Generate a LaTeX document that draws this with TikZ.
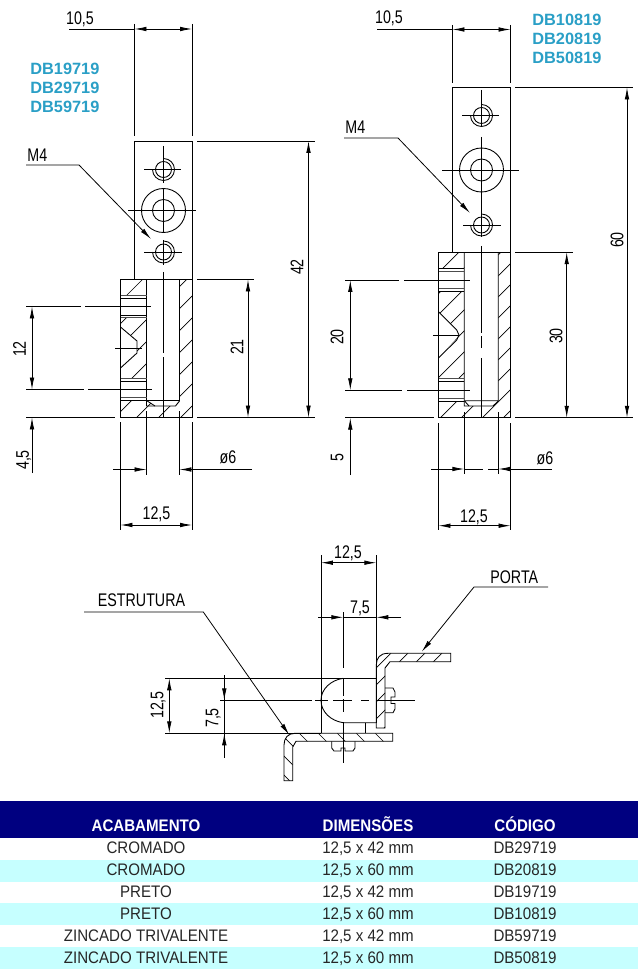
\documentclass[tikz,border=0pt]{standalone}
\usepackage{fontspec}
\usepackage{xcolor}
\usetikzlibrary{arrows.meta}
\setmainfont{Liberation Sans}
\newfontfamily\dimfont[FakeStretch=0.78]{Liberation Sans}
\newfontfamily\rowfont[FakeStretch=0.905]{Liberation Sans}
\definecolor{codeblue}{HTML}{2A9FC6}
\definecolor{headblue}{HTML}{000080}
\definecolor{rowcyan}{HTML}{C6FFFF}
\begin{document}
\begin{tikzpicture}[x=0.02cm,y=-0.02cm,line width=0.45pt,
  part/.style={line width=0.5pt},
  thin part/.style={line width=0.4pt,black!70},
  hatch/.style={line width=0.4pt},
  dim/.style={{Latex[length=6.8pt,width=2.6pt]}-{Latex[length=6.8pt,width=2.6pt]}},
  dim end/.style={-{Latex[length=6.8pt,width=2.6pt]}},
  dim text/.style={font=\dimfont\fontsize{10.4}{11}\selectfont,inner sep=0pt,text depth=0pt},
  code text/.style={font=\bfseries\fontsize{9.3}{11}\selectfont,text=codeblue,inner sep=0pt,anchor=west},
  head text/.style={font=\rowfont\bfseries\fontsize{9.5}{10}\selectfont,text=white,inner sep=0pt,anchor=base},
  row text/.style={font=\rowfont\fontsize{9.5}{10}\selectfont,text=black!85,inner sep=0pt,text depth=0pt}]
\useasboundingbox (0,0) rectangle (638,969);

% left view, plate
\draw[part] (134.5,279.5) -- (134.5,141) -- (192,141) -- (192,279.5);
\foreach \cy in {169.5,252} {
  \draw[part] (163.5,\cy) circle[radius=8];
  \draw[part] (163.5,\cy-11) arc[start angle=-90,end angle=180,radius=11];
}
\draw[part] (163.5,210.5) circle[radius=11] (163.5,210.5) circle[radius=22];
\draw (144,169.5) -- (181,169.5) (163.5,146) -- (163.5,183);
\draw (128,210.5) -- (196,210.5) (163.5,188) -- (163.5,232);
\draw (144,252) -- (182,252) (163.5,240) -- (163.5,265);
\draw (163.5,272) -- (163.5,353) (163.5,357) -- (163.5,417.5);

% left view, section
\begin{scope}
\clip (120.5,279.5) rectangle (146.5,295)
  (120.5,317.5) -- (146.5,317.5) -- (146.5,378) -- (120.5,378) -- (120.5,368) -- (137,353) -- (137,341) -- (120.5,327) -- cycle
  (120.5,400) -- (146.5,400) -- (155,406) -- (175.5,406) -- (179.5,401) -- (179.5,279.5) -- (192,279.5) -- (192,417.5) -- (120.5,417.5) -- cycle;
\foreach \k in {400,422,...,610} \draw[hatch] (\k-450,450) -- (\k-250,250);
\end{scope}
\draw[part] (120.5,279.5) rectangle (192,417.5);
\draw[part] (146.5,279.5) -- (146.5,406) -- (175.5,406) -- (179.5,401) -- (179.5,279.5);
\draw[part] (146.5,400.5) -- (179.5,400.5) (146.5,400.5) -- (155,406);
\draw[thin part] (120.5,295) -- (146.5,295) (120.5,378) -- (146.5,378) (120.5,397) -- (146.5,397) (120.5,317.5) -- (146.5,317.5);
\draw[part] (120.5,298) -- (146.5,298) (120.5,315) -- (146.5,315) (120.5,381) -- (146.5,381) (120.5,400) -- (146.5,400);
\draw[part] (120.5,327) -- (137,341) -- (137,353) -- (120.5,368);
\draw (115,348) -- (142,348);

% left view, dimensions
\draw (134.5,24) -- (134.5,136) (192,24) -- (192,136);
\draw[dim] (134.5,29) -- (192,29);
\draw (69,29) -- (134.5,29);
\node[dim text] (widthA) at (80,18.5) {10,5};
\draw (197,141) -- (315,141) (197,279.5) -- (254,279.5) (197,417.5) -- (315,417.5);
\draw[dim] (308.5,141) -- (308.5,417.5);
\draw[dim] (248,279.5) -- (248,417.5);
\node[dim text,rotate=90] (heightA) at (297,267) {42};
\node[dim text,rotate=90] (wallA) at (237,347) {21};
\draw (26,306.5) -- (81,306.5) (85,306.5) -- (151,306.5);
\draw (26,389.5) -- (84,389.5) (88,389.5) -- (152,389.5);
\draw (26,417.5) -- (115,417.5);
\draw[dim] (32,306.5) -- (32,389.5);
\draw[dim end] (32,473) -- (32,417.5);
\node[dim text,rotate=90] (holesA) at (19.5,349) {12};
\node[dim text,rotate=90] (offsetA) at (22.5,460) {4,5};
\draw (120.5,422) -- (120.5,530) (192,422) -- (192,530);
\draw (146.5,411) -- (146.5,475) (179.5,411) -- (179.5,475);
\draw[dim end] (113,469.5) -- (146.5,469.5);
\draw[dim end] (252,469.5) -- (179.5,469.5);
\node[dim text] (boreA) at (228,457.5) {ø6};
\draw[dim] (120.5,525) -- (192,525);
\node[dim text] (depthA) at (156.5,513) {12,5};
\node[code text] (codeA) at (30,69) {DB19719};
\node[code text] (codeB) at (30,88) {DB29719};
\node[code text] (codeC) at (30,107) {DB59719};
\node[dim text,anchor=west] (threadA) at (27,155) {M4};
\coordinate (threadAtip) at (151,239);
\draw[dim end] (26,165) -- (79,165) -- (threadAtip);

% right view, plate
\draw[part] (452.5,252.3) -- (452.5,87.5) -- (510.5,87.5) -- (510.5,252.3);
\foreach \cy in {115.5,225} {
  \draw[part] (481.5,\cy) circle[radius=8];
  \draw[part] (481.5,\cy-11) arc[start angle=-90,end angle=180,radius=11];
}
\draw[part] (481.5,170) circle[radius=11] (481.5,170) circle[radius=22];
\draw (462,115.5) -- (499,115.5) (481.5,90) -- (481.5,127);
\draw (442,170) -- (519,170) (481.5,137) -- (481.5,237);
\draw (463,225) -- (501,225);
\draw (481.5,246) -- (481.5,333) (481.5,336) -- (481.5,348) (481.5,358) -- (481.5,417.7);

% right view, section
\begin{scope}
\clip (438.5,252.3) rectangle (464.3,268)
  (438.5,291.7) -- (464.3,291.7) -- (464.3,378) -- (438.5,378) -- (438.5,358) -- (458,337) -- (459,335) -- (456.7,330) -- (438.5,311.7) -- cycle
  (438.5,401) -- (464.3,401) -- (469,406) -- (493,406) -- (498.3,401) -- (498.3,252.3) -- (510.5,252.3) -- (510.5,417.7) -- (438.5,417.7) -- cycle;
\foreach \k in {690,711,...,928} \draw[hatch] (\k-450,450) -- (\k-250,250);
\end{scope}
\draw[part] (438.5,252.3) rectangle (510.5,417.7);
\draw[part] (464.3,252.3) -- (464.3,406) -- (493,406) -- (498.3,401) -- (498.3,252.3);
\draw[part] (464.3,400.7) -- (498.3,400.7) (464.3,400.7) -- (469,406);
\draw[thin part] (438.5,271) -- (464.3,271) (438.5,288) -- (464.3,288) (438.5,378) -- (464.3,378) (438.5,398.3) -- (464.3,398.3);
\draw[part] (438.5,268) -- (464.3,268) (438.5,291.7) -- (464.3,291.7) (438.5,381) -- (464.3,381) (438.5,401) -- (464.3,401);
\draw[part] (438.5,311.7) -- (456.7,330) -- (459,335) -- (456.7,340) -- (438.5,358);
\draw (433,335) -- (459,335);

% right view, dimensions
\draw (452.5,25) -- (452.5,83) (510.5,25) -- (510.5,83);
\draw[dim] (452.5,29.5) -- (510.5,29.5);
\draw (377,29.5) -- (452.5,29.5);
\node[dim text] (widthB) at (389,17.5) {10,5};
\draw (515,87.5) -- (633,87.5) (515,252.3) -- (573,252.3) (515,417.7) -- (633,417.7);
\draw[dim] (627,87.5) -- (627,417.7);
\draw[dim] (566.7,252.3) -- (566.7,417.7);
\node[dim text,rotate=90] (heightB) at (617,240) {60};
\node[dim text,rotate=90] (wallB) at (556,336) {30};
\draw (345,280) -- (399,280) (404,280) -- (470,280);
\draw (345,390.3) -- (402,390.3) (407,390.3) -- (470,390.3);
\draw (345,417.7) -- (434,417.7);
\draw[dim] (350.3,280) -- (350.3,390.3);
\draw[dim end] (350.3,475) -- (350.3,417.7);
\node[dim text,rotate=90] (holesB) at (337,337) {20};
\node[dim text,rotate=90] (offsetB) at (337,458) {5};
\draw (438.5,423) -- (438.5,530) (510.5,423) -- (510.5,530);
\draw (464.3,412) -- (464.3,474) (498.3,412) -- (498.3,474);
\draw[dim end] (431,469) -- (464.3,469);
\draw (464.3,469) -- (483,469);
\draw[dim end] (552,469) -- (498.3,469);
\draw (488,469) -- (498.3,469);
\node[dim text] (boreB) at (545,458) {ø6};
\draw[dim] (438.5,525.7) -- (510.5,525.7);
\node[dim text] (depthB) at (474,516) {12,5};
\node[code text] (codeD) at (532,20) {DB10819};
\node[code text] (codeE) at (532,39) {DB20819};
\node[code text] (codeF) at (532,58) {DB50819};
\node[dim text,anchor=west] (threadB) at (345,127) {M4};
\coordinate (threadBtip) at (470,213);
\draw[dim end] (344,138) -- (398,138) -- (threadBtip);

% mounting view
\begin{scope}
\clip (376.3,728) -- (385,728) -- (385,668) -- (390,661.7) -- (450.7,661.7) -- (450.7,653.3) -- (388,653.3) .. controls (380,653.3) and (376.3,658) .. (376.3,665) -- cycle;
\foreach \k in {1027,1044,...,1120} \draw[hatch] (\k-750,750) -- (\k-640,640);
\end{scope}
\draw[part] (376.3,728) -- (385,728) -- (385,668) -- (390,661.7) -- (450.7,661.7) -- (450.7,653.3) -- (388,653.3) .. controls (380,653.3) and (376.3,658) .. (376.3,665) -- cycle;
\begin{scope}
\clip (284,780.7) -- (292.7,780.7) -- (292.7,747) -- (296,741.3) -- (392.7,741.3) -- (392.7,733.3) -- (295,733.3) .. controls (288,733.3) and (284,738) .. (284,745) -- cycle;
\foreach \k in {-510,-491,...,-340} \draw[hatch] (\k+700,700) -- (\k+800,800);
\end{scope}
\draw[part] (284,780.7) -- (292.7,780.7) -- (292.7,747) -- (296,741.3) -- (392.7,741.3) -- (392.7,733.3) -- (295,733.3) .. controls (288,733.3) and (284,738) .. (284,745) -- cycle;
\draw[part] (385,688) -- (393,688) -- (395,692) -- (395,697) -- (391,697) -- (391,703.5) -- (395,703.5) -- (395,709) -- (393,712.7) -- (385,712.7);
\draw[part] (331.7,741.3) -- (331.7,748) -- (334,751) -- (341,751) -- (341,748) -- (345,748) -- (345,751) -- (353,751) -- (355,748) -- (355,741.3);
\draw[part] (343.3,678.3) .. controls (331,680) and (321,689) .. (321,700.3) .. controls (321,712) and (331,721) .. (343.3,722.7) -- (376.3,722.7);
\draw[part] (365.7,722.7) -- (365.7,733.3);
\draw (321,555) -- (321,733.3) (376.3,555) -- (376.3,722.7);
\draw (165,678.3) -- (376.3,678.3) (165,733.3) -- (321,733.3);
\draw (220,700.3) -- (312,700.3) (315,700.3) -- (328,700.3) (333,700.3) -- (352,700.3) (361,700.3) -- (369,700.3) (376.3,700.3) -- (415,700.3);
\draw (343.3,612) -- (343.3,668) (343.3,678) -- (343.3,696) (343.3,699) -- (343.3,712) (343.3,722) -- (343.3,763);
\draw[dim] (321,562.7) -- (376.3,562.7);
\node[dim text] (depthC) at (348,552) {12,5};
\draw[dim end] (318,617.3) -- (343.3,617.3);
\draw[dim end] (401,617.3) -- (376.3,617.3);
\draw (343.3,617.3) -- (376.3,617.3);
\node[dim text] (axisC) at (360,607) {7,5};
\draw[dim] (169.3,678.3) -- (169.3,733.3);
\node[dim text,rotate=90] (depthD) at (157,705) {12,5};
\draw (224.3,675) -- (224.3,700.3) (224.3,733.3) -- (224.3,758);
\draw[dim end] (224.3,680) -- (224.3,700.3);
\draw[dim end] (224.3,755) -- (224.3,733.3);
\draw (224.3,700.3) -- (224.3,733.3);
\node[dim text,rotate=90] (axisD) at (212,718) {7,5};
\node[dim text] (frame) at (141.5,600) {ESTRUTURA};
\coordinate (frametip) at (289.3,735);
\draw[dim end] (84,612) -- (203.3,612) -- (frametip);
\node[dim text,anchor=west] (door) at (490,577) {PORTA};
\coordinate (doortip) at (421.7,651.7);
\draw[dim end] (548,587) -- (474,587) -- (doortip);

% table
\fill[headblue] (0,801) rectangle (638,838);
\foreach \ya/\yb in {859.5/881.5,903/925,946.5/968.5} \fill[rowcyan] (0,\ya) rectangle (638,\yb);
\node[head text] (headA) at (146,831.5) {ACABAMENTO};
\node[head text] (headB) at (368,831.5) {DIMENSÕES};
\node[head text] (headC) at (525,831.5) {CÓDIGO};
\foreach \yt/\acab/\sz/\cod [count=\i] in {848/CROMADO/{12,5 x 42 mm}/DB29719,870/CROMADO/{12,5 x 60 mm}/DB20819,892/PRETO/{12,5 x 42 mm}/DB19719,914/PRETO/{12,5 x 60 mm}/DB10819,936/ZINCADO TRIVALENTE/{12,5 x 42 mm}/DB59719,957.5/ZINCADO TRIVALENTE/{12,5 x 60 mm}/DB50819} {
  \node[row text] (finish\i) at (146,\yt) {\acab};
  \node[row text] (size\i) at (368,\yt) {\sz};
  \node[row text] (item\i) at (525,\yt) {\cod};
}
\end{tikzpicture}
\end{document}
